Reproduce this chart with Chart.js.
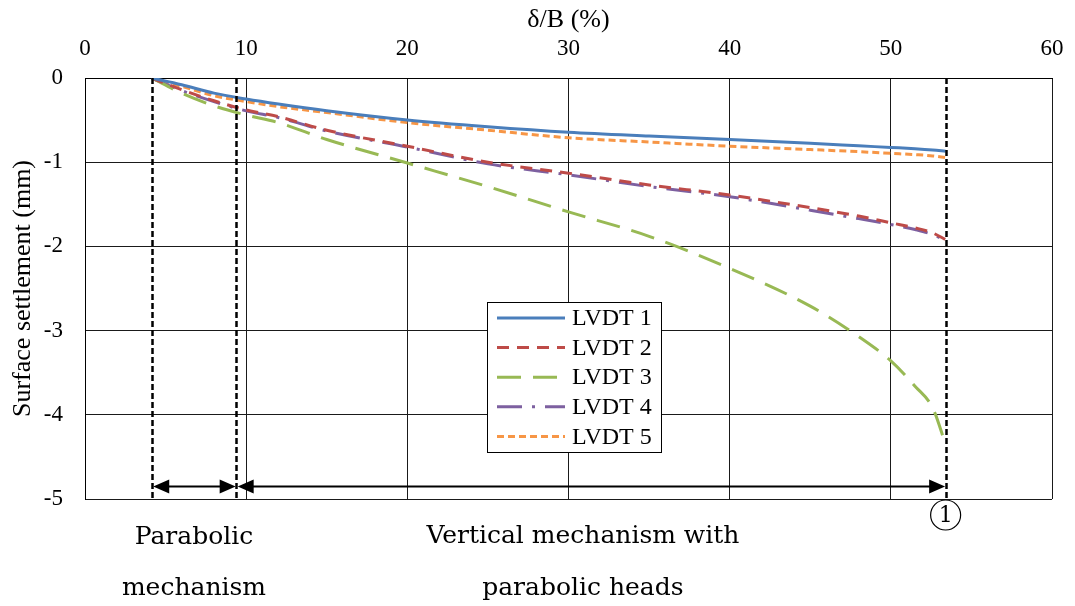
<!DOCTYPE html>
<html>
<head>
<meta charset="utf-8">
<script src="https://cdn.jsdelivr.net/npm/chart.js@4"></script>
<style>
  html, body { margin: 0; padding: 0; background: #fff; }
  #wrap { width: 1075px; height: 606px; }
</style>
</head>
<body>
<div id="wrap"><canvas id="settlement-chart" width="1075" height="606"></canvas></div>
<script>
// Data: delta/B (%) vs surface settlement (mm)
const deltaB = [4.14, 6, 8, 10, 12, 15, 20, 25, 30, 35, 40, 45, 48, 50, 51.5, 52.6, 53.4];
const lvdt1 = [0, -0.08, -0.18, -0.25, -0.31, -0.39, -0.50, -0.58, -0.645, -0.69, -0.73, -0.775, -0.805, -0.825, -0.84, -0.855, -0.87];
const lvdt2 = [0, -0.14, -0.27, -0.38, -0.46, -0.62, -0.81, -1.00, -1.13, -1.27, -1.39, -1.54, -1.64, -1.72, -1.78, -1.84, -1.92];
const lvdt3 = [0, -0.18, -0.33, -0.44, -0.53, -0.73, -1.01, -1.29, -1.59, -1.88, -2.26, -2.71, -3.07, -3.36, -3.66, -3.92, -4.35];
const lvdt4 = [0, -0.15, -0.28, -0.39, -0.47, -0.63, -0.82, -1.02, -1.15, -1.29, -1.41, -1.57, -1.67, -1.74, -1.80, -1.86, -1.93];
const lvdt5 = [0, -0.10, -0.21, -0.28, -0.34, -0.41, -0.53, -0.62, -0.71, -0.76, -0.81, -0.85, -0.875, -0.895, -0.91, -0.925, -0.945];

const seriesNames = ['LVDT 1', 'LVDT 2', 'LVDT 3', 'LVDT 4', 'LVDT 5'];
const seriesValues = [lvdt1, lvdt2, lvdt3, lvdt4, lvdt5];
const seriesColors = ['#4a7ebb', '#be4b48', '#98b954', '#7d60a0', '#f79646'];
const seriesDashes = [[], [12, 8], [24, 12], [25, 10, 3, 10], [7, 4]];

// Mechanism boundaries (delta/B %) and arrow level (mm)
const boundaries = [4.14, 9.38, 53.4];
const arrowLevel = -4.85;

const serif = '"Liberation Serif", "Times New Roman", serif';
const labelFont = '"DejaVu Serif", Cambria, serif';

function toPoints(values) {
    return values.map((v, i) => ({ x: deltaB[i], y: v }));
}

// Plugin: dashed boundaries, arrows, labels and framed legend
const annotations = {
    id: 'annotations',
    afterDatasetsDraw(chart) {
        const ctx = chart.ctx;
        const xs = chart.scales.x;
        const ys = chart.scales.y;
        const area = chart.chartArea;

        ctx.save();
        // vertical dashed lines
        ctx.strokeStyle = '#000';
        ctx.lineWidth = 2.5;
        ctx.setLineDash([6, 3]);
        boundaries.forEach(b => {
            const px = Math.round(xs.getPixelForValue(b)) + 0.5;
            ctx.beginPath();
            ctx.moveTo(px, area.top);
            ctx.lineTo(px, area.bottom);
            ctx.stroke();
        });
        ctx.setLineDash([]);

        // double-headed arrows
        const ay = Math.round(ys.getPixelForValue(arrowLevel)) + 0.5;
        const drawArrow = (x1, x2) => {
            const p1 = xs.getPixelForValue(x1) + 1.5;
            const p2 = xs.getPixelForValue(x2) - 0.5;
            ctx.lineWidth = 2;
            ctx.beginPath();
            ctx.moveTo(p1 + 10, ay);
            ctx.lineTo(p2 - 10, ay);
            ctx.stroke();
            ctx.beginPath();
            ctx.moveTo(p1, ay);
            ctx.lineTo(p1 + 16, ay - 7);
            ctx.lineTo(p1 + 16, ay + 7);
            ctx.closePath();
            ctx.moveTo(p2, ay);
            ctx.lineTo(p2 - 16, ay - 7);
            ctx.lineTo(p2 - 16, ay + 7);
            ctx.closePath();
            ctx.fill();
        };
        ctx.fillStyle = '#000';
        drawArrow(boundaries[0], boundaries[1]);
        drawArrow(boundaries[1], boundaries[2]);

        // circled 1 at the failure point
        const cx = xs.getPixelForValue(boundaries[2]);
        ctx.lineWidth = 1.2;
        ctx.beginPath();
        ctx.arc(cx, area.bottom + 16, 15, 0, Math.PI * 2);
        ctx.fillStyle = '#fff';
        ctx.fill();
        ctx.stroke();
        ctx.fillStyle = '#000';
        ctx.font = '22px ' + labelFont;
        ctx.textAlign = 'center';
        ctx.textBaseline = 'middle';
        ctx.fillText('1', cx, area.bottom + 17);

        // mechanism labels
        ctx.font = '25px ' + labelFont;
        const m1 = xs.getPixelForValue((boundaries[0] + boundaries[1]) / 2);
        const m2 = xs.getPixelForValue((boundaries[1] + boundaries[2]) / 2) - 8;
        ctx.fillText('Parabolic', m1, area.bottom + 38);
        ctx.fillText('mechanism', m1, area.bottom + 89);
        ctx.fillText('Vertical mechanism with', m2, area.bottom + 37);
        ctx.fillText('parabolic heads', m2, area.bottom + 89);

        // legend box
        const lx = 487, ly = 302, lw = 174, lh = 150;
        ctx.fillStyle = '#fff';
        ctx.fillRect(lx, ly, lw, lh);
        ctx.strokeStyle = '#000';
        ctx.lineWidth = 1;
        ctx.strokeRect(lx + 0.5, ly + 0.5, lw, lh);
        ctx.font = '24px ' + serif;
        ctx.textAlign = 'left';
        ctx.textBaseline = 'middle';
        chart.data.datasets.forEach((ds, i) => {
            const rowY = ly + 16 + i * 29.6;
            ctx.strokeStyle = ds.borderColor;
            ctx.lineWidth = 3;
            ctx.setLineDash(ds.borderDash);
            ctx.lineCap = 'butt';
            ctx.beginPath();
            ctx.moveTo(lx + 10, rowY);
            ctx.lineTo(lx + 78, rowY);
            ctx.stroke();
            ctx.setLineDash([]);
            ctx.fillStyle = '#000';
            ctx.fillText(ds.label, lx + 85, rowY + 1);
        });
        ctx.restore();
    }
};

const chart = new Chart(document.getElementById('settlement-chart'), {
    type: 'line',
    data: {
        datasets: seriesNames.map((name, i) => ({
            label: name,
            data: toPoints(seriesValues[i]),
            borderColor: seriesColors[i],
            backgroundColor: seriesColors[i],
            borderDash: seriesDashes[i],
            borderWidth: 3,
            pointRadius: 0,
            cubicInterpolationMode: 'monotone',
            fill: false
        }))
    },
    options: {
        responsive: false,
        animation: false,
        layout: { padding: { left: 0, right: 23, top: 0, bottom: 107 } },
        plugins: {
            legend: { display: false },
            tooltip: { enabled: false }
        },
        scales: {
            x: {
                type: 'linear',
                position: 'top',
                min: 0,
                max: 60,
                ticks: { stepSize: 10, color: '#000', padding: 15, font: { family: serif, size: 23 } },
                grid: { color: '#1a1a1a', lineWidth: 1, drawTicks: false },
                border: { color: '#000', width: 1 },
                title: { display: true, text: 'δ/B (%)', color: '#000', padding: { top: 5, bottom: 0 }, font: { family: serif, size: 26 } },
                afterFit(scale) {
                    scale.height = 78;
                    scale.paddingLeft = 0;
                    scale.paddingRight = 0;
                }
            },
            y: {
                min: -5,
                max: 0,
                ticks: { stepSize: 1, color: '#000', padding: 22, font: { family: serif, size: 23 } },
                grid: { color: '#1a1a1a', lineWidth: 1, drawTicks: false },
                border: { color: '#000', width: 1 },
                title: { display: true, text: 'Surface settlement (mm)', color: '#000', padding: { top: 8, bottom: 0 }, font: { family: serif, size: 26 } },
                afterFit(scale) { scale.width = 85; }
            }
        }
    },
    plugins: [annotations]
});
</script>
</body>
</html>
